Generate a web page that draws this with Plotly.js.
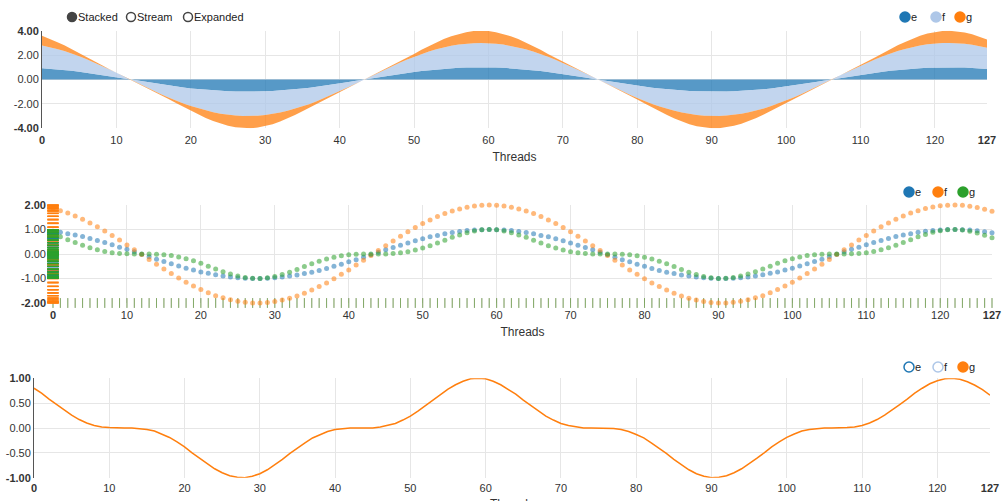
<!DOCTYPE html>
<html>
<head>
<meta charset="utf-8">
<script src="https://cdn.plot.ly/plotly-3.0.1.min.js"></script>
<style>
html,body{margin:0;padding:0;background:#fff;}
#chart{width:1003px;height:501px;}
</style>
</head>
<body>
<div id="chart"></div>
<script>
// ---- data ----
const threads = Array.from({length: 128}, (_, i) => i);

const seriesNames = ['e', 'f', 'g'];

const eValues = [0.93,0.89,0.83,0.78,0.71,0.63,0.55,0.47,0.38,0.28,
 0.19,0.09,-0.01,-0.11,-0.21,-0.31,-0.40,-0.49,-0.58,-0.65,
 -0.73,-0.79,-0.85,-0.90,-0.94,-0.97,-0.99,-1.00,-1.00,-0.99,
 -0.97,-0.94,-0.90,-0.86,-0.80,-0.74,-0.67,-0.59,-0.50,-0.42,
 -0.32,-0.23,-0.13,-0.03,0.07,0.17,0.27,0.36,0.45,0.54,
 0.62,0.70,0.76,0.83,0.88,0.92,0.96,0.98,0.99,1.00,
 0.99,0.98,0.96,0.92,0.88,0.83,0.76,0.70,0.62,0.54,
 0.45,0.36,0.27,0.17,0.07,-0.03,-0.13,-0.23,-0.32,-0.42,
 -0.50,-0.59,-0.67,-0.74,-0.80,-0.86,-0.90,-0.94,-0.97,-0.99,
 -1.00,-1.00,-0.99,-0.97,-0.94,-0.90,-0.85,-0.79,-0.73,-0.65,
 -0.58,-0.49,-0.40,-0.31,-0.21,-0.11,-0.01,0.09,0.19,0.28,
 0.38,0.47,0.55,0.63,0.71,0.78,0.83,0.89,0.93,0.96,
 0.98,1.00,1.00,0.99,0.98,0.95,0.91,0.87];

const fValues = [1.86,1.77,1.67,1.55,1.42,1.27,1.11,0.94,0.76,0.57,
 0.37,0.17,-0.02,-0.22,-0.42,-0.61,-0.80,-0.98,-1.15,-1.31,
 -1.45,-1.58,-1.70,-1.79,-1.87,-1.93,-1.97,-2.00,-2.00,-1.98,
 -1.94,-1.88,-1.81,-1.71,-1.60,-1.47,-1.33,-1.18,-1.01,-0.83,
 -0.65,-0.45,-0.26,-0.06,0.14,0.34,0.53,0.72,0.91,1.08,
 1.24,1.39,1.53,1.65,1.76,1.84,1.91,1.96,1.99,2.00,
 1.99,1.96,1.91,1.84,1.76,1.65,1.53,1.39,1.24,1.08,
 0.91,0.72,0.53,0.34,0.14,-0.06,-0.26,-0.45,-0.65,-0.83,
 -1.01,-1.18,-1.33,-1.47,-1.60,-1.71,-1.81,-1.88,-1.94,-1.98,
 -2.00,-2.00,-1.97,-1.93,-1.87,-1.79,-1.70,-1.58,-1.45,-1.31,
 -1.15,-0.98,-0.80,-0.61,-0.42,-0.22,-0.02,0.17,0.37,0.57,
 0.76,0.94,1.11,1.27,1.42,1.55,1.67,1.77,1.86,1.92,
 1.97,1.99,2.00,1.99,1.95,1.90,1.83,1.74];

const gValues = [0.80,0.70,0.58,0.47,0.36,0.26,0.17,0.10,0.05,0.02,
 0.01,0.00,0.00,0.00,-0.01,-0.03,-0.06,-0.12,-0.19,-0.28,
 -0.38,-0.50,-0.61,-0.72,-0.82,-0.90,-0.96,-0.99,-1.00,-0.97,
 -0.92,-0.84,-0.74,-0.63,-0.51,-0.40,-0.30,-0.20,-0.13,-0.07,
 -0.03,-0.01,0.00,0.00,0.00,0.00,0.02,0.05,0.09,0.16,
 0.24,0.34,0.45,0.56,0.68,0.78,0.87,0.94,0.99,1.00,
 0.99,0.94,0.87,0.78,0.68,0.56,0.45,0.34,0.24,0.16,
 0.09,0.05,0.02,0.00,0.00,0.00,0.00,-0.01,-0.03,-0.07,
 -0.13,-0.20,-0.30,-0.40,-0.51,-0.63,-0.74,-0.84,-0.92,-0.97,
 -1.00,-0.99,-0.96,-0.90,-0.82,-0.72,-0.61,-0.50,-0.38,-0.28,
 -0.19,-0.12,-0.06,-0.03,-0.01,0.00,0.00,0.00,0.01,0.02,
 0.05,0.10,0.17,0.26,0.36,0.47,0.58,0.70,0.80,0.89,
 0.95,0.99,1.00,0.98,0.93,0.86,0.77,0.66];

const xTickVals = [0,10,20,30,40,50,60,70,80,90,100,110,120,127];
const xTickText = ['<b>0</b>','10','20','30','40','50','60','70','80','90','100','110','120','<b>127</b>'];
const y1TickVals = [-4,-2,0,2,4];
const y1TickText = ['<b>-4.00</b>','-2.00','0.00','2.00','<b>4.00</b>'];
const y2TickVals = [-2,-1,0,1,2];
const y2TickText = ['<b>-2.00</b>','-1.00','0.00','1.00','<b>2.00</b>'];
const y3TickVals = [-1,-0.5,0,0.5,1];
const y3TickText = ['<b>-1.00</b>','-0.50','0.00','0.50','<b>1.00</b>'];
const modeLabels = ['Stacked','Stream','Expanded'];
const xTitle = 'Threads';

// ---- styling ----
const W = 1003, H = 501;
const px = v => v / W;
const py = v => 1 - v / H;
const FONT = 'Liberation Sans, Arial, sans-serif';
const areaColors = ['rgba(31,119,180,0.75)','rgba(174,199,232,0.75)','rgba(255,127,14,0.75)'];
const areaLegend = ['#1f77b4','#aec7e8','#ff7f0e'];
const scatColors = ['#1f77b4','#ff7f0e','#2ca02c'];
const rugColors = ['rgba(31,119,180,0.35)','rgba(255,127,14,0.35)','rgba(44,160,44,0.45)'];
const values = [eValues, fValues, gValues];

const traces = [];
// top: stacked area
seriesNames.forEach((n, i) => {
  traces.push({
    type: 'scatter', mode: 'lines', x: threads, y: values[i], name: n,
    stackgroup: 'one', fillcolor: areaColors[i], line: {width: 0, color: areaColors[i]},
    xaxis: 'x', yaxis: 'y', showlegend: false, hoverinfo: 'skip'
  });
});
// middle: distribution rugs (under the points)
seriesNames.forEach((n, i) => {
  traces.push({
    type: 'scatter', mode: 'markers', x: threads, y: threads.map(() => -2),
    marker: {symbol: 'line-ns', size: 7, line: {width: 1, color: rugColors[i]}},
    xaxis: 'x2', yaxis: 'y2', showlegend: false, cliponaxis: false, hoverinfo: 'skip'
  });
});
// middle: scatter
seriesNames.forEach((n, i) => {
  traces.push({
    type: 'scatter', mode: 'markers', x: threads, y: values[i], name: n,
    marker: {color: scatColors[i], size: 5, opacity: 0.55},
    xaxis: 'x2', yaxis: 'y2', showlegend: false, cliponaxis: false
  });
});
seriesNames.forEach((n, i) => {
  traces.push({
    type: 'scatter', mode: 'markers', x: threads.map(() => 0), y: values[i],
    marker: {symbol: 'line-ew', size: 8, line: {width: 1, color: scatColors[i]}, color: scatColors[i]},
    xaxis: 'x2', yaxis: 'y2', showlegend: false, cliponaxis: false, hoverinfo: 'skip'
  });
});
// bottom: line g
traces.push({
  type: 'scatter', mode: 'lines', x: threads, y: gValues, name: 'g',
  line: {color: '#ff7f0e', width: 1.5},
  xaxis: 'x3', yaxis: 'y3', showlegend: false
});

function xAxis(domain, anchor, withTitle) {
  const ax = {
    domain: domain, anchor: anchor, range: [0, 127], tickmode: 'array',
    tickvals: xTickVals, ticktext: xTickText, showgrid: true, gridcolor: '#e6e6e6',
    zeroline: false, showline: false, ticks: '', ticklabelstandoff: 4,
    tickfont: {family: FONT, size: 11, color: '#333'}
  };
  if (withTitle) ax.title = {text: xTitle, font: {family: FONT, size: 12, color: '#333'}, standoff: 7};
  return ax;
}
function yAxis(domain, anchor, range, tv, tt, showline) {
  return {
    domain: domain, anchor: anchor, range: range, tickmode: 'array',
    tickvals: tv, ticktext: tt, showgrid: true, gridcolor: '#e6e6e6',
    zeroline: false, showline: showline, linecolor: '#555', linewidth: 1, ticks: '',
    tickfont: {family: FONT, size: 11, color: '#333'}
  };
}

const shapes = [], annotations = [];
function circle(cx, cy, r, fill, stroke) {
  shapes.push({type: 'circle', xref: 'paper', yref: 'paper',
    x0: px(cx - r), x1: px(cx + r), y0: py(cy + r), y1: py(cy - r),
    fillcolor: fill, line: {color: stroke, width: 1.5}});
}
function label(x, y, t) {
  annotations.push({xref: 'paper', yref: 'paper', x: px(x), y: py(y), text: t,
    showarrow: false, xanchor: 'left', yanchor: 'middle',
    font: {family: FONT, size: 11, color: '#222'}});
}
// controls
const ctrlX = [72, 131, 188];
modeLabels.forEach((m, i) => {
  circle(ctrlX[i], 17, 4.5, i === 0 ? '#444' : '#fff', '#444');
  label(ctrlX[i] + 4, 17, m);
});
// legends
const legX = [905, 936, 960];
const legX2 = [909, 938, 963];
seriesNames.forEach((n, i) => {
  circle(legX[i], 17, 5, areaLegend[i], areaLegend[i]);
  label(legX[i] + 4, 17, n);
  circle(legX2[i], 192, 5, scatColors[i], scatColors[i]);
  label(legX2[i] + 4, 192, n);
  circle(legX2[i], 367, 5, i === 2 ? areaLegend[i] : '#fff', areaLegend[i]);
  label(legX2[i] + 4, 367, n);
});
// bottom axis title sits at the very edge of the page (partly cut off)
annotations.push({xref: 'paper', yref: 'paper', x: px(512), y: py(495), text: xTitle,
  showarrow: false, xanchor: 'center', yanchor: 'top',
  font: {family: FONT, size: 12, color: '#333'}});

const layout = {
  width: W, height: H, margin: {l: 0, r: 0, t: 0, b: 0},
  paper_bgcolor: '#fff', plot_bgcolor: '#fff', showlegend: false,
  font: {family: FONT, size: 11, color: '#333'},
  xaxis: xAxis([px(42), px(987)], 'y', true),
  yaxis: yAxis([py(128.3), py(30.7)], 'x', [-4, 4], y1TickVals, y1TickText, true),
  xaxis2: xAxis([px(53), px(992)], 'y2', true),
  yaxis2: yAxis([py(303), py(205)], 'x2', [-2, 2], y2TickVals, y2TickText, false),
  xaxis3: xAxis([px(34), px(990)], 'y3', false),
  yaxis3: yAxis([py(477.7), py(378.3)], 'x3', [-1, 1], y3TickVals, y3TickText, true),
  shapes: shapes, annotations: annotations
};
layout.yaxis2.ticklabelstandoff = 6;
layout.xaxis3.ticklabelstandoff = 2;

Plotly.newPlot('chart', traces, layout, {displayModeBar: false, staticPlot: true});
</script>
</body>
</html>
